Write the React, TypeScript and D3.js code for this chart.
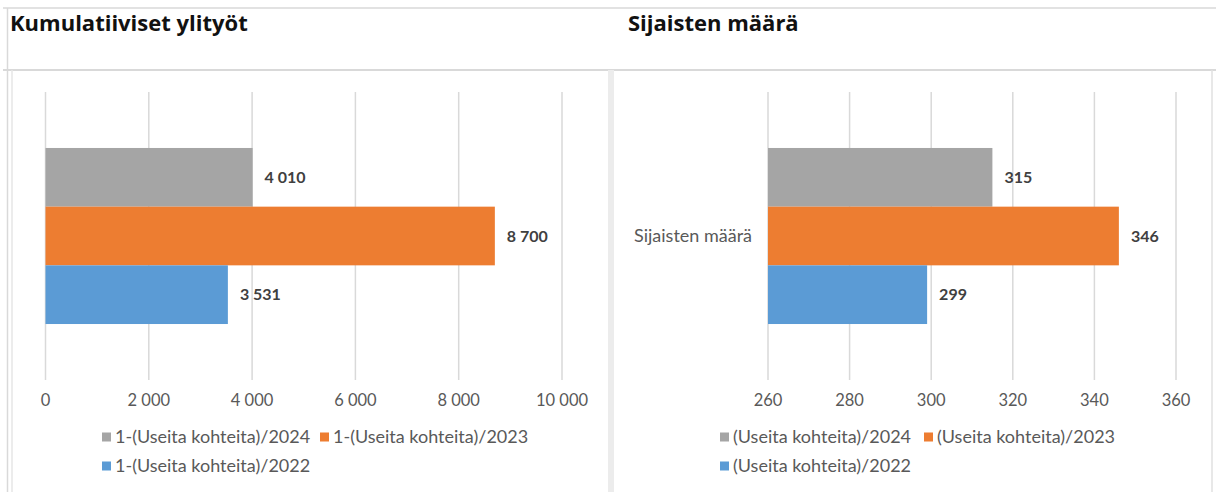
import React from "react";
import * as d3 from "d3";

// chart 1: Kumulatiiviset ylityöt
const seriesLeft = ["1-(Useita kohteita)/2024", "1-(Useita kohteita)/2023", "1-(Useita kohteita)/2022"];
const valuesLeft = [4010, 8700, 3531];
const ticksLeft = [0, 2000, 4000, 6000, 8000, 10000];

// chart 2: Sijaisten määrä
const seriesRight = ["(Useita kohteita)/2024", "(Useita kohteita)/2023", "(Useita kohteita)/2022"];
const valuesRight = [315, 346, 299];
const ticksRight = [260, 280, 300, 320, 340, 360];
const categoryRight = "Sijaisten määrä";

const colors = ["#a5a5a5", "#ed7d31", "#5b9bd5"];
const FONT = "Lato, 'Open Sans', sans-serif";
const fmt = (v: number) => d3.format(",")(v).replace(/,/g, " ");

type PanelProps = {
  title: string;
  titleX: number;
  series: string[];
  values: number[];
  ticks: number[];
  x0: number;
  x1: number;
  category?: string;
  legendX: number;
  legendGap: number;
};

function Panel({ title, titleX, series, values, ticks, x0, x1, category, legendX, legendGap }: PanelProps) {
  const x = d3.scaleLinear().domain([ticks[0], ticks[ticks.length - 1]]).range([x0, x1]);
  const plotTop = 92, plotBottom = 380;
  const cat = d3.scaleBand().domain(["c"]).range([plotTop, plotBottom]).paddingInner(0).paddingOuter(0.318);
  const y = d3.scaleBand().domain(series).range([cat("c")!, cat("c")! + cat.bandwidth()]);

  return (
    <g>
      <text x={titleX} y={31} fontFamily="'Open Sans', sans-serif" fontWeight="bold" fontSize={22} fill="#111">
        {title}
      </text>
      {ticks.map((t) => (
        <line key={t} x1={x(t)} x2={x(t)} y1={plotTop} y2={plotBottom} stroke="#d9d9d9" strokeWidth={1.5} />
      ))}
      {series.map((s, i) => (
        <g key={s}>
          <rect x={x(ticks[0])} y={y(s)} width={x(values[i]) - x(ticks[0])} height={y.bandwidth()} fill={colors[i]} />
          <text
            x={x(values[i]) + 12}
            y={y(s)! + y.bandwidth() / 2}
            dy="0.35em"
            fontFamily={FONT}
            fontWeight="bold"
            fontSize={16}
            fill="#404040"
          >
            {fmt(values[i])}
          </text>
        </g>
      ))}
      {category && (
        <text x={x0 - 16} y={cat("c")! + cat.bandwidth() / 2} dy="0.35em" textAnchor="end" fontFamily={FONT} fontSize={18} fill="#595959">
          {category}
        </text>
      )}
      {ticks.map((t) => (
        <text key={t} x={x(t)} y={400} dy="0.35em" textAnchor="middle" fontFamily={FONT} fontSize={16.5} fill="#595959">
          {fmt(t)}
        </text>
      ))}
      {series.map((s, i) => {
        const lx = legendX + (i === 1 ? legendGap : 0);
        const ly = i === 2 ? 466 : 437;
        return (
          <g key={s}>
            <rect x={lx} y={ly - 4.5} width={9} height={9} fill={colors[i]} />
            <text x={lx + 13} y={ly} dy="0.35em" fontFamily={FONT} fontSize={18} fill="#595959">
              {s}
            </text>
          </g>
        );
      })}
    </g>
  );
}

export default function App() {
  return (
    <svg width={1216} height={492} style={{ position: "absolute", left: 0, top: 0, background: "#fff" }}>
      {/* frames */}
      <line x1={3} x2={1216} y1={8} y2={8} stroke="#d9d9d9" strokeWidth={1.5} />
      <line x1={7.5} x2={7.5} y1={8} y2={492} stroke="#d9d9d9" strokeWidth={1.5} />
      <line x1={3} x2={1216} y1={70} y2={70} stroke="#d9d9d9" strokeWidth={2} />
      <line x1={12} x2={12} y1={70} y2={492} stroke="#e6e6e6" strokeWidth={1.5} />
      <rect x={608} y={70} width={6} height={422} fill="#ececec" />
      <line x1={1212} x2={1212} y1={70} y2={492} stroke="#e0e0e0" strokeWidth={1.5} />
      <Panel
        title="Kumulatiiviset ylityöt"
        titleX={10}
        series={seriesLeft}
        values={valuesLeft}
        ticks={ticksLeft}
        x0={45.5}
        x1={562}
        legendX={102}
        legendGap={218}
      />
      <Panel
        title="Sijaisten määrä"
        titleX={628}
        series={seriesRight}
        values={valuesRight}
        ticks={ticksRight}
        x0={768}
        x1={1176}
        category={categoryRight}
        legendX={720}
        legendGap={204}
      />
    </svg>
  );
}
